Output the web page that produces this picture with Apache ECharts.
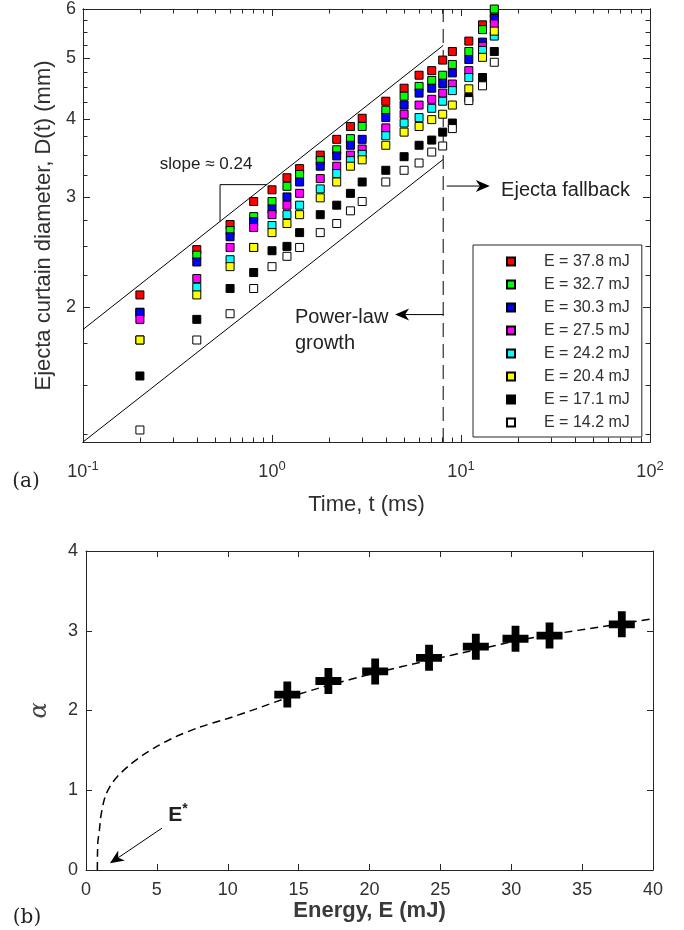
<!DOCTYPE html>
<html><head><meta charset="utf-8">
<script src="https://cdn.jsdelivr.net/npm/echarts@6/dist/echarts.min.js"></script>
<style>html,body{margin:0;padding:0;background:#fff}#c{width:684px;height:930px}</style>
</head><body><div id="c"></div>
<script>
// ---------- Panel (a) data ----------
const times = [0.2,0.4,0.6,0.8,1.0,1.2,1.4,1.8,2.2,2.6,3.0,4,5,6,7,8,9,11,13,15];
const seriesNames = ['E = 37.8 mJ','E = 32.7 mJ','E = 30.3 mJ','E = 27.5 mJ','E = 24.2 mJ','E = 20.4 mJ','E = 17.1 mJ','E = 14.2 mJ'];
const D_E378 = [2.09,2.47,2.71,2.95,3.08,3.22,3.33,3.50,3.71,3.89,4.01,4.27,4.48,4.70,4.78,4.97,5.13,5.33,5.66,5.90];
const D_E327 = [1.96,2.42,2.65,2.79,2.95,3.12,3.26,3.43,3.57,3.72,3.89,4.13,4.35,4.51,4.61,4.70,4.89,5.13,5.56,6.00];
const D_E303 = [1.96,2.36,2.59,2.74,2.87,3.00,3.17,3.36,3.49,3.63,3.71,4.02,4.21,4.40,4.48,4.56,4.74,4.98,5.31,5.79];
const D_E275 = [1.91,2.22,2.49,2.68,2.81,2.91,3.04,3.21,3.36,3.50,3.58,3.87,4.07,4.21,4.30,4.40,4.55,4.78,5.23,5.68];
const D_E242 = [1.77,2.15,2.38,2.49,2.70,2.81,2.91,3.09,3.27,3.43,3.51,3.76,3.94,4.02,4.16,4.27,4.44,4.66,5.15,5.43];
const D_E204 = [1.77,2.09,2.32,2.49,2.63,2.72,2.81,2.99,3.17,3.36,3.44,3.63,3.81,3.89,3.99,4.07,4.21,4.47,5.02,5.53];
const D_E171 = [1.55,1.91,2.14,2.27,2.46,2.50,2.63,2.81,2.91,3.04,3.17,3.31,3.48,3.63,3.70,3.81,3.94,4.33,4.66,5.13];
const D_E142 = [1.27,1.77,1.95,2.14,2.32,2.41,2.49,2.63,2.72,2.85,2.95,3.17,3.31,3.40,3.54,3.62,3.86,4.28,4.52,4.93];
const diameterSets = [D_E378,D_E327,D_E303,D_E275,D_E242,D_E204,D_E171,D_E142];

// panel (a) guide lines (data coordinates)
const upperLineT = [0.1, 8.05], upperLineD = [1.84, 5.245];
const lowerLineT = [0.1, 8.05], lowerLineD = [1.215, 3.445];
const slopeT = [0.531, 0.531, 0.9376], slopeD = [2.74, 3.139, 3.139];
const fallbackT = 8.05;

// axis ticks (a)
const xMajorTicks = [0.1, 1, 10, 100];
const yMajorTicks = [2, 3, 4, 5, 6];
const yMinorTicks = [1.25,1.5,1.75,2.25,2.5,2.75,3.25,3.5,3.75,4.25,4.5,4.75,5.25,5.5,5.75];
const xMinorTicks = [];
[0.1, 1, 10].forEach(d => { for (let k = 2; k <= 9; k++) xMinorTicks.push(+(d * k).toFixed(4)); });

// ---------- Panel (b) data ----------
const energies = [14.2,17.1,20.4,24.2,27.5,30.3,32.7,37.8];
const alphaVals = [2.20,2.37,2.49,2.66,2.80,2.90,2.94,3.08];
const fitE = [0.80,0.81,0.84,0.94,1.03,1.2,1.41,1.8,2.3,3.1,4.0,5.0,6.3,8.0,10,12,14.2,17,20.4,24.2,27.5,30.3,32.7,37.8,40];
const fitAlpha = [0,0.2,0.36,0.49,0.65,0.82,0.95,1.08,1.19,1.32,1.44,1.55,1.67,1.79,1.90,2.02,2.16,2.31,2.47,2.63,2.76,2.87,2.95,3.09,3.15];

const colors = ['#ff0000','#00ff00','#0000ff','#ff00ff','#00ffff','#ffff00','#000000','#ffffff'];
const AX = '#262626';
const TXT = '#303030';
const FONT = '"Liberation Sans", Arial, Helvetica, sans-serif';

const chart = echarts.init(document.getElementById('c'), null, {renderer: 'canvas'});

function logAxisX(pos, ticks, len, labels) {
  return {
    gridIndex: 0, type: 'log', logBase: 10, min: 0.1, max: 100, position: pos,
    axisLine: {show: true, lineStyle: {color: AX, width: 1}},
    axisTick: {show: true, inside: true, length: len, customValues: ticks, lineStyle: {color: AX}},
    axisLabel: labels ? {
      show: true, customValues: xMajorTicks, margin: 18, color: TXT, fontFamily: FONT,
      formatter: v => '{b|10}{s|' + Math.round(Math.log10(v)) + '}',
      rich: {b: {fontSize: 18, fontFamily: FONT, color: TXT}, s: {fontSize: 13, fontFamily: FONT, color: TXT, padding: [0, 0, 11, 0]}}
    } : {show: false},
    splitLine: {show: false}, minorTick: {show: false}
  };
}
function logAxisY(pos, ticks, len, labels) {
  return {
    gridIndex: 0, type: 'log', logBase: 10, min: 1.215, max: 6, position: pos,
    axisLine: {show: true, lineStyle: {color: AX, width: 1}},
    axisTick: {show: true, inside: true, length: len, customValues: ticks, lineStyle: {color: AX}},
    axisLabel: labels ? {show: true, customValues: yMajorTicks, margin: 7, fontSize: 18, color: TXT, fontFamily: FONT, formatter: v => String(Math.round(v))} : {show: false},
    splitLine: {show: false}, minorTick: {show: false}
  };
}

const xA0 = logAxisX('bottom', xMajorTicks, 7, true);
Object.assign(xA0, {name: 'Time, t (ms)', nameLocation: 'middle', nameGap: 52, nameTextStyle: {fontSize: 22, color: TXT, fontFamily: FONT}});
const yA0 = logAxisY('left', yMajorTicks, 7, true);
Object.assign(yA0, {name: 'Ejecta curtain diameter, D(t) (mm)', nameLocation: 'middle', nameGap: 28, nameTextStyle: {fontSize: 22, color: TXT, fontFamily: FONT}});

const linAxisCommon = {
  gridIndex: 1, type: 'value',
  axisLine: {show: true, onZero: false, lineStyle: {color: AX, width: 1}},
  axisTick: {show: true, inside: true, length: 6, lineStyle: {color: AX}},
  splitLine: {show: false}
};

const option = {
  backgroundColor: '#fff',
  animation: false,
  grid: [
    {left: 83, top: 7, width: 567, height: 435},
    {left: 86, top: 551, width: 567, height: 319}
  ],
  xAxis: [
    xA0,
    logAxisX('bottom', xMinorTicks, 4.5, false),
    logAxisX('top', xMajorTicks, 7, false),
    logAxisX('top', xMinorTicks, 4.5, false),
    Object.assign({}, linAxisCommon, {position: 'bottom', min: 0, max: 40, interval: 5,
      axisLabel: {show: true, margin: 11, fontSize: 18, color: TXT, fontFamily: FONT},
      name: 'Energy, E (mJ)', nameLocation: 'middle', nameGap: 27,
      nameTextStyle: {fontSize: 22, fontWeight: 'bold', color: '#3a3a3a', fontFamily: FONT}}),
    Object.assign({}, linAxisCommon, {position: 'top', min: 0, max: 40, interval: 5, axisLabel: {show: false}})
  ],
  yAxis: [
    yA0,
    logAxisY('left', yMinorTicks, 4.5, false),
    logAxisY('right', yMajorTicks, 7, false),
    logAxisY('right', yMinorTicks, 4.5, false),
    Object.assign({}, linAxisCommon, {position: 'left', min: 0, max: 4, interval: 1,
      axisLabel: {show: true, margin: 8, fontSize: 18, color: TXT, fontFamily: FONT},
      name: 'α', nameLocation: 'middle', nameGap: 34,
      nameTextStyle: {fontSize: 24, fontStyle: 'italic', color: '#444', fontFamily: '"DejaVu Serif", "Liberation Serif", serif'}}),
    Object.assign({}, linAxisCommon, {position: 'right', min: 0, max: 4, interval: 1, axisLabel: {show: false}})
  ],
  legend: {
    data: seriesNames, orient: 'vertical', left: 473, top: 245,
    padding: [5, 12, 3, 33], itemGap: 0, itemWidth: 8, itemHeight: 8,
    icon: 'rect', borderColor: AX, borderWidth: 1, backgroundColor: '#fff',
    textStyle: {fontSize: 16, lineHeight: 23, color: TXT, fontFamily: FONT, padding: [0, 0, 0, 24]},
    selectedMode: false
  },
  series: []
};

// guide lines first (underneath markers)
const lineStyleThin = {color: '#000', width: 1};
option.series.push(
  {type: 'line', xAxisIndex: 0, yAxisIndex: 0, data: upperLineT.map((t, i) => [t, upperLineD[i]]), symbol: 'none', lineStyle: lineStyleThin, silent: true, z: 1},
  {type: 'line', xAxisIndex: 0, yAxisIndex: 0, data: lowerLineT.map((t, i) => [t, lowerLineD[i]]), symbol: 'none', lineStyle: lineStyleThin, silent: true, z: 1},
  {type: 'line', xAxisIndex: 0, yAxisIndex: 0, data: slopeT.map((t, i) => [t, slopeD[i]]), symbol: 'none', lineStyle: lineStyleThin, silent: true, z: 1},
  {type: 'line', xAxisIndex: 0, yAxisIndex: 0, data: [[fallbackT, 1.215], [fallbackT, 6]], symbol: 'none', lineStyle: {color: '#000', width: 1, type: [14, 7]}, silent: true, z: 1}
);

diameterSets.forEach((arr, i) => {
  option.series.push({
    type: 'scatter', name: seriesNames[i], xAxisIndex: 0, yAxisIndex: 0,
    data: times.map((t, j) => [t, arr[j]]),
    symbol: 'rect', symbolSize: 8,
    itemStyle: {color: colors[i], borderColor: '#000', borderWidth: 1, opacity: 1},
    z: 2 + i * 0.01
  });
});

// panel (b)
option.series.push(
  {type: 'line', xAxisIndex: 4, yAxisIndex: 4, data: fitE.map((e, i) => [e, fitAlpha[i]]), symbol: 'none', smooth: 0.2,
   lineStyle: {color: '#000', width: 1.5, type: [8, 5]}, silent: true, z: 1},
  {type: 'scatter', xAxisIndex: 4, yAxisIndex: 4, data: energies.map((e, i) => [e, alphaVals[i]]),
   symbol: 'path://M7,0 H13 V7 H20 V13 H13 V20 H7 V13 H0 V7 H7 Z', symbolSize: 26, itemStyle: {color: '#000', opacity: 1}, z: 3}
);

chart.setOption(option);

// ---------- annotations positioned through the axes ----------
function P(g, x, y) { return chart.convertToPixel({gridIndex: g}, [x, y]); }
function arrow(p1, p2, L, W) {
  const dx = p2[0] - p1[0], dy = p2[1] - p1[1], len = Math.hypot(dx, dy);
  const ux = dx / len, uy = dy / len, nx = -uy, ny = ux;
  const notch = [p2[0] - ux * (L - 4), p2[1] - uy * (L - 4)];
  return [
    {type: 'line', shape: {x1: p1[0], y1: p1[1], x2: notch[0], y2: notch[1]}, style: {stroke: '#000', lineWidth: 1}},
    {type: 'polygon', shape: {points: [p2, [p2[0] - ux * L + nx * W, p2[1] - uy * L + ny * W], notch, [p2[0] - ux * L - nx * W, p2[1] - uy * L - ny * W]]}, style: {fill: '#000'}}
  ];
}
const annText = {fontFamily: FONT, fill: '#222'};
const pSlope = P(0, 0.448, 3.386);
const pFall = P(0, 16.3, 3.07);
const pPow = P(0, 1.323, 1.833);
const pEstar = P(1, 6.49, 0.687);
const graphics = [
  {type: 'text', x: pSlope[0], y: pSlope[1], style: Object.assign({text: 'slope ≈ 0.24', fontSize: 17, align: 'center', verticalAlign: 'middle'}, annText)},
  {type: 'text', x: pFall[0], y: pFall[1], style: Object.assign({text: 'Ejecta fallback', fontSize: 20, align: 'left', verticalAlign: 'middle'}, annText)},
  {type: 'text', x: pPow[0], y: pPow[1], style: Object.assign({text: 'Power-law\ngrowth', fontSize: 20, lineHeight: 26, align: 'left', verticalAlign: 'middle'}, annText)},
  {type: 'text', x: pEstar[0], y: pEstar[1], style: {rich: {e: {fontSize: 21, fontWeight: 'bold', fontFamily: FONT, fill: '#222'}, s: {fontSize: 14, fontWeight: 'bold', fontFamily: FONT, fill: '#222', padding: [0, 0, 12, 0]}}, text: '{e|E}{s|*}', align: 'center', verticalAlign: 'middle'}},
  {type: 'text', x: 26, y: 482, style: {text: '(a)', fontSize: 20, fontFamily: '"DejaVu Serif", "Liberation Serif", serif', fill: '#222', align: 'center', verticalAlign: 'middle'}},
  {type: 'text', x: 27, y: 918, style: {text: '(b)', fontSize: 20, fontFamily: '"DejaVu Serif", "Liberation Serif", serif', fill: '#222', align: 'center', verticalAlign: 'middle'}}
].concat(
  arrow(P(0, 8.4, 3.123), P(0, 14.2, 3.123), 14, 6),
  arrow(P(0, fallbackT, 1.944), P(0, 4.48, 1.944), 14, 6),
  arrow(P(1, 5.36, 0.525), P(1, 1.69, 0.084), 14, 6)
);
chart.setOption({graphic: graphics});
</script></body></html>
